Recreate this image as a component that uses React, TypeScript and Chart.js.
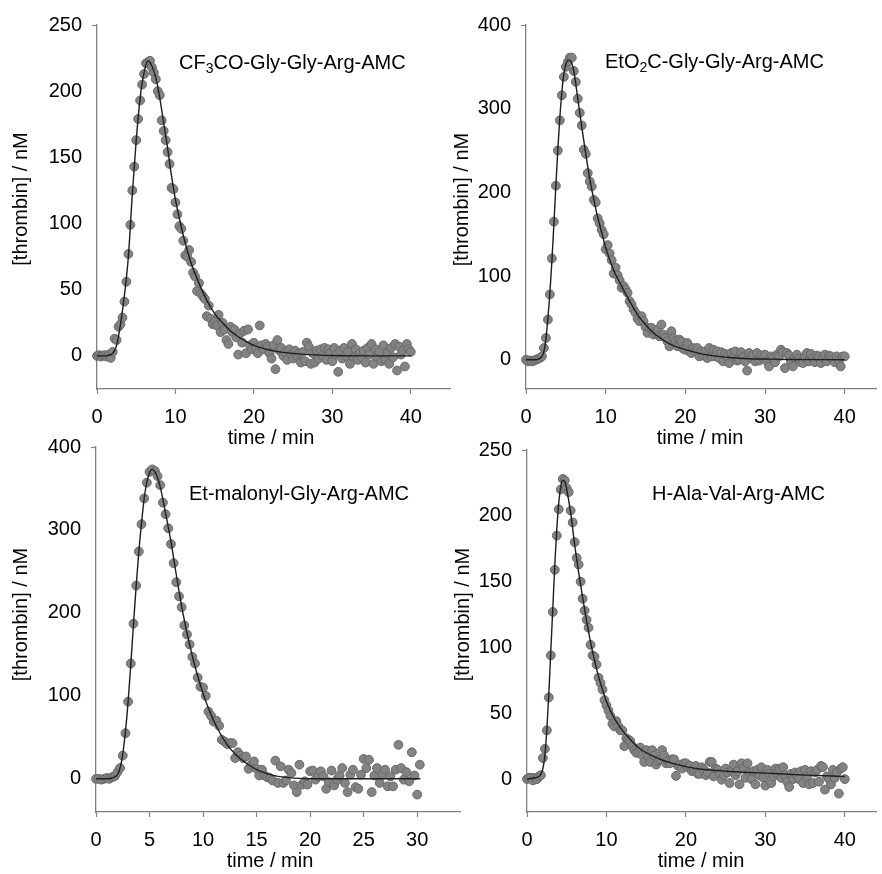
import { useEffect, useRef } from "react";
import { Chart, registerables } from "chart.js";

Chart.register(...registerables);

// ---------- sampling grid (minutes) ----------
const TIME_GRID = [
  0, 0.25, 0.5, 0.75, 1, 1.25, 1.5, 1.75, 2, 2.25, 2.5, 2.75, 3, 3.25, 3.5, 3.75, 4, 4.25, 4.5, 4.75,
  5, 5.25, 5.5, 5.75, 6, 6.25, 6.5, 6.75, 7, 7.25, 7.5, 7.75, 8, 8.25, 8.5, 8.75, 9, 9.25, 9.5, 9.75,
  10, 10.25, 10.5, 10.75, 11, 11.25, 11.5, 11.75, 12, 12.25, 12.5, 12.75, 13, 13.25, 13.5, 13.75, 14, 14.25, 14.5, 14.75,
  15, 15.25, 15.5, 15.75, 16, 16.25, 16.5, 16.75, 17, 17.25, 17.5, 17.75, 18, 18.25, 18.5, 18.75, 19, 19.25, 19.5, 19.75,
  20, 20.25, 20.5, 20.75, 21, 21.25, 21.5, 21.75, 22, 22.25, 22.5, 22.75, 23, 23.25, 23.5, 23.75, 24, 24.25, 24.5, 24.75,
  25, 25.25, 25.5, 25.75, 26, 26.25, 26.5, 26.75, 27, 27.25, 27.5, 27.75, 28, 28.25, 28.5, 28.75, 29, 29.25, 29.5, 29.75,
  30, 30.25, 30.5, 30.75, 31, 31.25, 31.5, 31.75, 32, 32.25, 32.5, 32.75, 33, 33.25, 33.5, 33.75, 34, 34.25, 34.5, 34.75,
  35, 35.25, 35.5, 35.75, 36, 36.25, 36.5, 36.75, 37, 37.25, 37.5, 37.75, 38, 38.25, 38.5, 38.75, 39, 39.25, 39.5, 39.75,
  40,
];

// ---------- Panel 1: CF3CO-Gly-Gly-Arg-AMC ----------
const P1_VALUES = [
  0, 0.5, -0.5, 0.3, 0.5, -0.5, 1, -1.5, 3, 13, 12, 22, 24, 29, 41, 56, 77, 99, 125, 143,
  163, 179, 193, 205, 213, 221, 222, 223, 218, 214, 209, 200, 197, 178, 170, 163, 154, 145, 127, 126,
  116, 107, 98, 96, 87, 76, 75, 80, 71, 63, 60, 49, 55, 47, 45, 43, 30, 38, 28, 24,
  26, 23, 31, 18, 25, 20, 12, 9, 22, 18, 20, 14, 1, 17, 10, 19, 2, 20, 8, 5,
  10, 6, 2, 23, 8, 5, 9, 7, 2, -2, 8, -10, 12, 4, 6, 0, 3, -3, 5, 1,
  -2, 4, 0, 2, -5, 3, -4, 10, 7, -6, 2, -5, 4, -2, 5, 0, 6, -3, 5, 2,
  -4, 6, 1, -12, 4, -2, 6, 0, 3, -6, 9, -1, 5, -3, 2, -1, 4, -5, 6, 1,
  9, -6, 5, -1, 3, -4, 8, -3, 2, -6, 6, -1, 9, -11, 7, 1, 4, -8, 9, 5,
  3,
];
const P1_FIT_T = [0, 0.5, 1, 1.5, 2, 2.5, 3, 3.5, 4, 4.5, 5, 5.5, 6, 6.5, 7, 7.5, 8, 8.5, 9, 9.5, 10, 10.5, 11, 11.5, 12, 13, 14, 15, 16, 17, 18, 19, 20, 22, 24, 27, 30, 35, 40];
const P1_FIT_V = [0, 0, 0, 0.5, 2, 8, 24, 46, 75, 122, 163, 195, 214, 223, 219, 210, 195, 176, 157, 136, 118, 104, 91, 80, 70, 55, 42, 32, 25, 19, 14.5, 11, 8, 4.5, 2.5, 1, 0.3, 0, 0];
const P1_X_TICKS = [0, 10, 20, 30, 40];
const P1_Y_TICKS = [0, 50, 100, 150, 200, 250];

// ---------- Panel 2: EtO2C-Gly-Gly-Arg-AMC ----------
const P2_VALUES = [
  0, -2, -1, -2, -1, 0, 1, 2, 4, 14, 26, 48, 78, 121, 165, 208, 250, 286, 316, 338,
  350, 356, 361, 361, 345, 332, 312, 295, 280, 251, 246, 223, 213, 207, 191, 188, 169, 163, 155, 150,
  132, 137, 127, 119, 103, 110, 101, 95, 86, 88, 84, 80, 70, 66, 60, 56, 49, 46, 52, 46,
  39, 32, 38, 38, 30, 32, 36, 28, 42, 30, 26, 22, 16, 34, 26, 22, 16, 24, 22, 13,
  12, 20, 10, 8, 14, 10, 14, 4, 10, 5, 10, 2, 14, 4, 12, 4, 10, 2, 9, -2,
  7, 4, -4, 8, 3, 10, -1, 0, 9, 3, -2, -13, 8, 2, 6, -2, 8, -1, 5, 2,
  6, -2, -8, 4, 2, -3, 6, 4, 12, 9, -10, 8, 5, -2, -8, 3, 6, 1, -3, -4,
  4, 8, -2, 7, 2, -3, 5, 4, -4, 3, 6, -2, 5, 4, 0, -3, 4, -1, -8, 4,
  4,
];
const P2_FIT_T = [0, 1, 1.5, 2, 2.25, 2.5, 2.75, 3, 3.25, 3.5, 3.75, 4, 4.25, 4.5, 4.75, 5, 5.25, 5.5, 5.75, 6, 6.5, 7, 7.5, 8, 8.5, 9, 9.5, 10, 11, 12, 13, 14, 15, 16, 17, 18, 19, 20, 22, 24, 26, 28, 30, 33, 40];
const P2_FIT_V = [0, 0, 0.5, 4, 10, 25, 50, 80, 118, 162, 208, 252, 290, 320, 342, 353, 358, 358, 354, 345, 312, 278, 246, 216, 192, 170, 152, 134, 107, 88, 70, 54, 42, 32, 25, 19, 15, 12, 7, 4, 2.4, 1.2, 0.8, 0.3, 0];
const P2_X_TICKS = [0, 10, 20, 30, 40];
const P2_Y_TICKS = [0, 100, 200, 300, 400];

// ---------- Panel 3: Et-malonyl-Gly-Arg-AMC ----------
const P3_VALUES = [
  0, 0, -1, 0, 1, 0, 2, 3, 8, 13, 28, 55, 93, 139, 187, 233, 274, 307, 338, 357,
  370, 373, 371, 365, 354, 333, 319, 302, 283, 260, 237, 220, 207, 185, 174, 162, 147, 139, 122, 111,
  110, 100, 81, 76, 69, 70, 64, 47, 45, 42, 43, 43, 25, 32, 28, 25, 27, 12, 17, 21,
  12, 4, 11, 4, 2, 1, -2, 22, -5, 15, -5, -2, 11, 7, -8, -16, 17, -7, -3, -7,
  9, 10, -1, 3, 9, 3, -12, -4, 10, -8, -1, 4, 13, -5, -16, 5, 11, -10, -12, 5,
  24, 13, 23, -16, 4, 13, -5, 5, 11, -9, 3, -9, 11, 41, 13, -1, 8, -3, 32, 4,
  -19, 17,
];
const P3_FIT_T = [0, 1, 1.5, 2, 2.25, 2.5, 2.75, 3, 3.25, 3.5, 3.75, 4, 4.25, 4.5, 4.75, 5, 5.25, 5.5, 5.75, 6, 6.5, 7, 7.5, 8, 8.5, 9, 9.5, 10, 10.5, 11, 11.5, 12, 12.5, 13, 14, 15, 16, 17, 18, 19, 20, 25, 30.3];
const P3_FIT_V = [0, 0, 1, 5, 13, 30, 57, 93, 138, 186, 232, 274, 308, 338, 358, 369, 373, 370, 363, 352, 320, 286, 246, 208, 176, 148, 124, 103, 85, 70, 57, 46, 37, 30, 19, 11, 6, 3, 1.5, 0.5, 0, 0, 0];
const P3_X_TICKS = [0, 5, 10, 15, 20, 25, 30];
const P3_Y_TICKS = [0, 100, 200, 300, 400];

// ---------- Panel 4: H-Ala-Val-Arg-AMC ----------
const P4_VALUES = [
  0, 1, 1, -1, 1, 0, 2, 3, 16, 23, 37, 62, 94, 127, 159, 185, 205, 220, 228, 227,
  221, 218, 204, 195, 180, 168, 163, 150, 137, 128, 121, 115, 102, 94, 93, 87, 77, 73, 68, 60,
  56, 52, 48, 42, 40, 44, 40, 37, 37, 25, 31, 30, 29, 25, 22, 20, 20, 24, 18, 13,
  22, 17, 13, 22, 18, 11, 14, 15, 22, 18, 12, 14, 12, 15, 15, 2.5, 10, 11, 8, 12,
  12, 9, 10, 6, 7, 10, 4, 4, 9, 7, 3, 5, 13, 13, 2, 8, 7, 4, -0.5, 3,
  8, 5, -3, 6, 11, 3, 6, -4, 12, 8, 1, 12, 5, 0, 6, -4, 7, 3, 9, 1,
  -5, 7, 4, -3, 2, 8, 4, 8, 1, 9, 3, -2, -6, 4, 0, 5, 3, 0, 6, -3,
  7, 2, -4, 6, -3, 5, 7, -2, 10, 9, -8, 2, 0, -4, 7, 1, 5, -11, 8, 9,
  0,
];
const P4_FIT_T = [0, 1, 1.5, 1.75, 2, 2.25, 2.5, 2.75, 3, 3.25, 3.5, 3.75, 4, 4.25, 4.5, 4.75, 5, 5.5, 6, 6.5, 7, 7.5, 8, 8.5, 9, 9.5, 10, 11, 12, 13, 14, 15, 16, 17, 18, 20, 22, 25, 28, 30, 35, 40];
const P4_FIT_V = [0, 1, 2, 4, 8, 18, 38, 65, 98, 130, 163, 190, 210, 222, 227, 226, 220, 202, 178, 157, 138, 120, 104, 90, 78, 68, 59, 46, 37, 30, 24, 20, 17, 14.5, 12.5, 9.5, 7.5, 6, 5, 4.5, 3, 2];
const P4_X_TICKS = [0, 10, 20, 30, 40];
const P4_Y_TICKS = [0, 50, 100, 150, 200, 250];

// ---------- text ----------
const X_TITLE = "time / min";
const Y_TITLE = "[thrombin] / nM";
const P1_LABEL = [{ text: "CF" }, { text: "3", sub: true }, { text: "CO-Gly-Gly-Arg-AMC" }];
const P2_LABEL = [{ text: "EtO" }, { text: "2", sub: true }, { text: "C-Gly-Gly-Arg-AMC" }];
const P3_LABEL = [{ text: "Et-malonyl-Gly-Arg-AMC" }];
const P4_LABEL = [{ text: "H-Ala-Val-Arg-AMC" }];

// ---------- styling / layout ----------
const W = 882;
const H = 874;
const FONT = "'Liberation Sans', Arial, Helvetica, sans-serif";
const FONT_SIZE = 20;
const AXIS_COLOR = "#808080";
const POINT_FILL = "#838383";
const POINT_EDGE = "#686868";
const FIT_COLOR = "#1e1e1e";
const X_AXIS_H = 60;

type Seg = { text: string; sub?: boolean };
type Panel = {
  id: string;
  values: number[];
  fitT: number[];
  fitV: number[];
  xMax: number;
  xTicks: number[];
  yMin: number;
  yMax: number;
  yTicks: number[];
  label: Seg[];
  area: { l: number; t: number; r: number; b: number };
  padL: number;
  labelPos: [number, number];
  yTitlePos: [number, number];
};

const PANELS: Panel[] = [
  {
    id: "p1", values: P1_VALUES, fitT: P1_FIT_T, fitV: P1_FIT_V,
    xMax: 45, xTicks: P1_X_TICKS, yMin: -25, yMax: 250, yTicks: P1_Y_TICKS, label: P1_LABEL,
    area: { l: 97, t: 25, r: 450, b: 389 }, padL: 0, labelPos: [179, 69], yTitlePos: [21, 199],
  },
  {
    id: "p2", values: P2_VALUES, fitT: P2_FIT_T, fitV: P2_FIT_V,
    xMax: 44, xTicks: P2_X_TICKS, yMin: -35, yMax: 400, yTicks: P2_Y_TICKS, label: P2_LABEL,
    area: { l: 526, t: 25, r: 881, b: 389 }, padL: 441, labelPos: [605, 68], yTitlePos: [462.5, 199.5],
  },
  {
    id: "p3", values: P3_VALUES, fitT: P3_FIT_T, fitV: P3_FIT_V,
    xMax: 34, xTicks: P3_X_TICKS, yMin: -40, yMax: 400, yTicks: P3_Y_TICKS, label: P3_LABEL,
    area: { l: 96, t: 447, r: 460, b: 812 }, padL: 0, labelPos: [189, 500], yTitlePos: [21, 614.5],
  },
  {
    id: "p4", values: P4_VALUES, fitT: P4_FIT_T, fitV: P4_FIT_V,
    xMax: 44, xTicks: P4_X_TICKS, yMin: -25, yMax: 250, yTicks: P4_Y_TICKS, label: P4_LABEL,
    area: { l: 527, t: 450, r: 881, b: 812 }, padL: 441, labelPos: [652, 500], yTitlePos: [463.5, 614.5],
  },
];

function buildConfig(p: Panel): any {
  const scatter = p.values.map((v, i) => ({ x: TIME_GRID[i], y: v }));
  const fit = p.fitT.map((t, i) => ({ x: t, y: p.fitV[i] }));
  const textPlugin = {
    id: "panelText",
    afterDraw(chart: any) {
      const ctx = chart.ctx as CanvasRenderingContext2D;
      const a = chart.chartArea;
      ctx.save();
      ctx.fillStyle = "#000";
      ctx.font = `${FONT_SIZE}px ${FONT}`;
      ctx.textAlign = "center";
      ctx.textBaseline = "alphabetic";
      ctx.fillText(X_TITLE, a.left + 174, a.bottom + 55);
      ctx.save();
      ctx.translate(p.yTitlePos[0], p.yTitlePos[1]);
      ctx.rotate(-Math.PI / 2);
      ctx.textBaseline = "middle";
      ctx.fillText(Y_TITLE, 0, 0);
      ctx.restore();
      ctx.textAlign = "left";
      ctx.textBaseline = "alphabetic";
      let x = p.labelPos[0];
      const y = p.labelPos[1];
      for (const seg of p.label) {
        ctx.font = seg.sub ? `14px ${FONT}` : `${FONT_SIZE}px ${FONT}`;
        ctx.fillText(seg.text, x, seg.sub ? y + 4 : y);
        x += ctx.measureText(seg.text).width;
      }
      ctx.restore();
    },
  };
  return {
    type: "scatter",
    data: {
      datasets: [
        {
          type: "line", data: fit, borderColor: FIT_COLOR, borderWidth: 1.4, pointRadius: 0,
          fill: false, cubicInterpolationMode: "monotone", clip: false, order: 0,
        },
        {
          type: "scatter", data: scatter, pointRadius: 4.4, pointBorderWidth: 1,
          pointBackgroundColor: POINT_FILL, pointBorderColor: POINT_EDGE, clip: false, order: 1,
        },
      ],
    },
    options: {
      responsive: false,
      animation: false,
      devicePixelRatio: 1,
      events: [],
      layout: {
        padding: { left: p.padL, top: p.area.t, right: W - p.area.r, bottom: H - p.area.b - X_AXIS_H },
      },
      plugins: { legend: { display: false }, tooltip: { enabled: false }, title: { display: false } },
      scales: {
        x: {
          type: "linear", min: 0, max: p.xMax,
          afterBuildTicks: (s: any) => { s.ticks = p.xTicks.map((v) => ({ value: v })); },
          afterFit: (s: any) => { s.height = X_AXIS_H; },
          grid: { drawOnChartArea: false, drawTicks: true, tickLength: 5, tickColor: AXIS_COLOR, tickWidth: 1.2 },
          border: { display: true, color: AXIS_COLOR, width: 1.3 },
          ticks: { color: "#000", font: { family: FONT, size: FONT_SIZE }, padding: 11, maxRotation: 0, autoSkip: false },
        },
        y: {
          type: "linear", min: p.yMin, max: p.yMax,
          afterBuildTicks: (s: any) => { s.ticks = p.yTicks.map((v) => ({ value: v })); },
          afterFit: (s: any) => { s.width = p.area.l - p.padL; },
          grid: {
            drawOnChartArea: false, drawTicks: true, tickLength: 5, tickWidth: 1.2,
            tickColor: (c: any) => (c.tick && c.tick.value === p.yMax ? AXIS_COLOR : "rgba(0,0,0,0)"),
          },
          border: { display: true, color: AXIS_COLOR, width: 1.3 },
          ticks: { color: "#000", font: { family: FONT, size: FONT_SIZE }, padding: 10, autoSkip: false },
        },
      },
    },
    plugins: [textPlugin],
  };
}

function PanelChart({ panel }: { panel: Panel }) {
  const ref = useRef<HTMLCanvasElement>(null);
  useEffect(() => {
    if (!ref.current) return;
    const chart = new Chart(ref.current, buildConfig(panel));
    return () => chart.destroy();
  }, [panel]);
  return <canvas ref={ref} width={W} height={H} style={{ position: "absolute", left: 0, top: 0 }} />;
}

export default function App() {
  return (
    <div style={{ position: "absolute", left: 0, top: 0, width: W, height: H, background: "#fff", overflow: "hidden" }}>
      {PANELS.map((p) => (
        <PanelChart key={p.id} panel={p} />
      ))}
    </div>
  );
}
